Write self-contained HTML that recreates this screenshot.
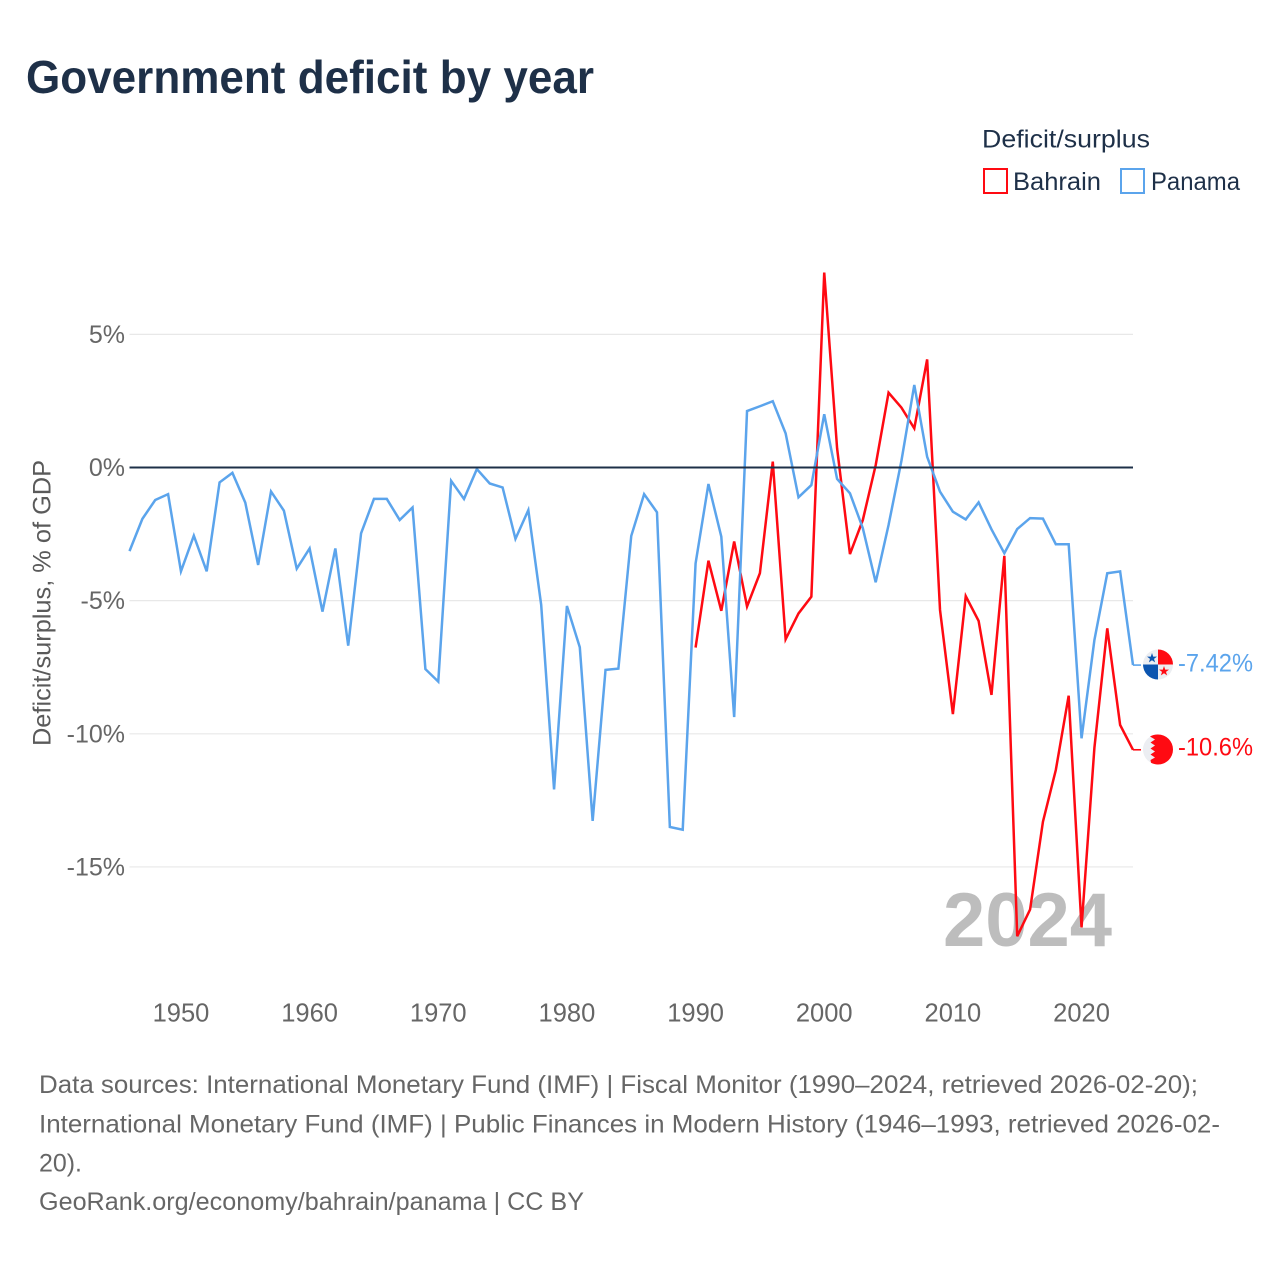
<!DOCTYPE html>
<html lang="en">
<head>
<meta charset="utf-8">
<title>Government deficit by year</title>
<style>
html,body{margin:0;padding:0;background:#fff;}
svg{display:block;}
text{font-family:"Liberation Sans",sans-serif;}
</style>
</head>
<body>
<svg id="chart" xmlns="http://www.w3.org/2000/svg" width="1280" height="1280" viewBox="0 0 1280 1280">
  <rect x="0" y="0" width="1280" height="1280" fill="#ffffff"/>
  <text x="26" y="93" font-size="46" font-weight="700" fill="#1e3048" textLength="568" lengthAdjust="spacingAndGlyphs">Government deficit by year</text>

  <g>
    <text x="982" y="147.5" font-size="25" fill="#1e3048" textLength="168" lengthAdjust="spacingAndGlyphs">Deficit/surplus</text>
    <rect x="984" y="169" width="23" height="24" fill="none" stroke="#ff0a12" stroke-width="2"/>
    <text x="1013" y="190" font-size="25" fill="#1e3048" textLength="88" lengthAdjust="spacingAndGlyphs">Bahrain</text>
    <rect x="1121" y="169" width="23" height="24" fill="none" stroke="#5ba4ec" stroke-width="2"/>
    <text x="1151" y="190" font-size="25" fill="#1e3048" textLength="89" lengthAdjust="spacingAndGlyphs">Panama</text>
  </g>

  <text x="1027.5" y="946" font-size="76" font-weight="700" fill="#bdbdbd" text-anchor="middle">2024</text>
  <g id="grid"></g>
  <g id="yticks"></g>
  <g id="xticks"></g>
  <g id="series"></g>
  <g id="zero"></g>
  <text transform="translate(50.5,603) rotate(-90)" font-size="25" fill="#5a5a5a" text-anchor="middle" textLength="286" lengthAdjust="spacingAndGlyphs">Deficit/surplus, % of GDP</text>

  <g>
    <circle cx="1158" cy="664.5" r="15" fill="#eceef2"/>
    <path d="M1158 664.5V649.5A15 15 0 0 1 1173 664.5Z" fill="#ff0a12"/>
    <path d="M1158 664.5V679.5A15 15 0 0 1 1143 664.5Z" fill="#0b55b0"/>
    <polygon points="1152,654 1153.2,657.6 1157,657.6 1154,659.9 1155.1,663.4 1152,661.3 1148.9,663.4 1150,659.9 1147,657.6 1150.8,657.6" fill="#0b55b0" transform="translate(0,-1)"/>
    <polygon points="1164,666 1165.2,669.6 1169,669.6 1166,671.9 1167.1,675.4 1164,673.3 1160.9,675.4 1162,671.9 1159,669.6 1162.8,669.6" fill="#ff0a12"/>
  </g>
  <g>
    <circle cx="1158" cy="749.5" r="15" fill="#eceef2"/>
    <path d="M1150 736.5L1155 739.5L1150.5 742.5L1155 745.5L1150.5 748.5L1155 751.5L1150.5 754.5L1155 757.5L1150.5 760L1151 762.8A15 15 0 0 0 1158 764.5A15 15 0 0 0 1158 734.5A15 15 0 0 0 1150 736.5Z" fill="#ff0a12"/>
  </g>
  <text x="1178" y="671.5" font-size="25" fill="#5ba4ec" textLength="75" lengthAdjust="spacingAndGlyphs">-7.42%</text>
  <text x="1178" y="755.5" font-size="25" fill="#ff0a12" textLength="75" lengthAdjust="spacingAndGlyphs">-10.6%</text>

  <g>
    <text x="39" y="1093" font-size="25" fill="#666666" textLength="1159" lengthAdjust="spacingAndGlyphs">Data sources: International Monetary Fund (IMF) | Fiscal Monitor (1990–2024, retrieved 2026-02-20);</text>
    <text x="39" y="1132.5" font-size="25" fill="#666666" textLength="1181" lengthAdjust="spacingAndGlyphs">International Monetary Fund (IMF) | Public Finances in Modern History (1946–1993, retrieved 2026-02-</text>
    <text x="39" y="1171.5" font-size="25" fill="#666666" textLength="43" lengthAdjust="spacingAndGlyphs">20).</text>
    <text x="39" y="1210" font-size="25" fill="#666666" textLength="545" lengthAdjust="spacingAndGlyphs">GeoRank.org/economy/bahrain/panama | CC BY</text>
  </g>
</svg>
<script>
const panamaStartYear = 1946;
const bahrainStartYear = 1990;
const panamaValues = [-3.14,-1.93,-1.22,-1.0,-3.9,-2.56,-3.9,-0.56,-0.2,-1.32,-3.66,-0.9,-1.62,-3.8,-3.04,-5.41,-3.04,-6.69,-2.47,-1.18,-1.18,-1.97,-1.5,-7.57,-8.04,-0.5,-1.18,-0.06,-0.6,-0.75,-2.68,-1.6,-5.16,-12.09,-5.2,-6.75,-13.27,-7.6,-7.55,-2.57,-1.0,-1.68,-13.5,-13.6,-3.6,-0.62,-2.6,-9.37,2.12,2.3,2.49,1.28,-1.12,-0.66,2.0,-0.43,-0.97,-2.28,-4.31,-2.16,0.25,3.1,0.4,-0.91,-1.66,-1.95,-1.31,-2.32,-3.22,-2.31,-1.9,-1.92,-2.88,-2.88,-10.17,-6.48,-3.97,-3.9,-7.42];
const bahrainValues = [-6.76,-3.5,-5.38,-2.78,-5.22,-3.97,0.22,-6.45,-5.48,-4.85,7.32,0.72,-3.25,-1.97,0.09,2.81,2.25,1.47,4.06,-5.35,-9.26,-4.83,-5.76,-8.54,-3.32,-17.6,-16.6,-13.3,-11.36,-8.57,-17.27,-10.53,-6.04,-9.67,-10.6];
const yTickValues = [5,0,-5,-10,-15];
const yTickLabels = ['5%','0%','-5%','-10%','-15%'];
const xTickValues = [1950,1960,1970,1980,1990,2000,2010,2020];
const xTickLabels = ['1950','1960','1970','1980','1990','2000','2010','2020'];

const NS = 'http://www.w3.org/2000/svg';
const plotLeft = 129.5, plotRight = 1133;
function xScale(year){ return plotLeft + (year - 1946) * (plotRight - plotLeft) / 78; }
function yScale(value){ return 467.5 - value * 26.63; }
function make(tag, attrs, parent){
  const el = document.createElementNS(NS, tag);
  for (const k in attrs) el.setAttribute(k, attrs[k]);
  parent.appendChild(el);
  return el;
}

const grid = document.getElementById('grid');
const yticks = document.getElementById('yticks');
yTickValues.forEach(function(v, i){
  if (v !== 0) {
    const line = make('line', {x1: plotLeft, x2: plotRight, y1: yScale(v), y2: yScale(v), stroke: '#e8e8e8', 'stroke-width': 1.2}, grid);
    
    
  }
  const label = make('text', {x: 125, y: yScale(v) + 8.5, 'font-size': 25, fill: '#666666', 'text-anchor': 'end'}, yticks);
  
  
  label.textContent = yTickLabels[i];
});

const xticks = document.getElementById('xticks');
xTickValues.forEach(function(v, i){
  const label = make('text', {x: xScale(v), y: 1021.5, 'font-size': 25.5, fill: '#666666', 'text-anchor': 'middle'}, xticks);
  
  
  label.textContent = xTickLabels[i];
});

function drawSeries(values, startYear, color, name){
  const group = document.getElementById('series');
  const pts = values.map(function(v, i){ return xScale(startYear + i).toFixed(2) + ',' + yScale(v).toFixed(2); });
  const lastY = yScale(values[values.length - 1]).toFixed(2);
  const line = make('polyline', {points: pts.join(' '), fill: 'none', stroke: color, 'stroke-width': 2.5, 'stroke-linejoin': 'miter', 'stroke-miterlimit': 4}, group);
  
  
  const link = make('line', {x1: plotRight, x2: plotRight + 8, y1: lastY, y2: lastY, stroke: color, 'stroke-width': 1.6}, group);
  
  
}
drawSeries(bahrainValues, bahrainStartYear, '#ff0a12', 'bahrain');
drawSeries(panamaValues, panamaStartYear, '#5ba4ec', 'panama');

const zeroLine = make('line', {x1: plotLeft, x2: plotRight, y1: yScale(0), y2: yScale(0), stroke: '#1e3048', 'stroke-width': 2}, document.getElementById('zero'));


</script>
</body>
</html>
